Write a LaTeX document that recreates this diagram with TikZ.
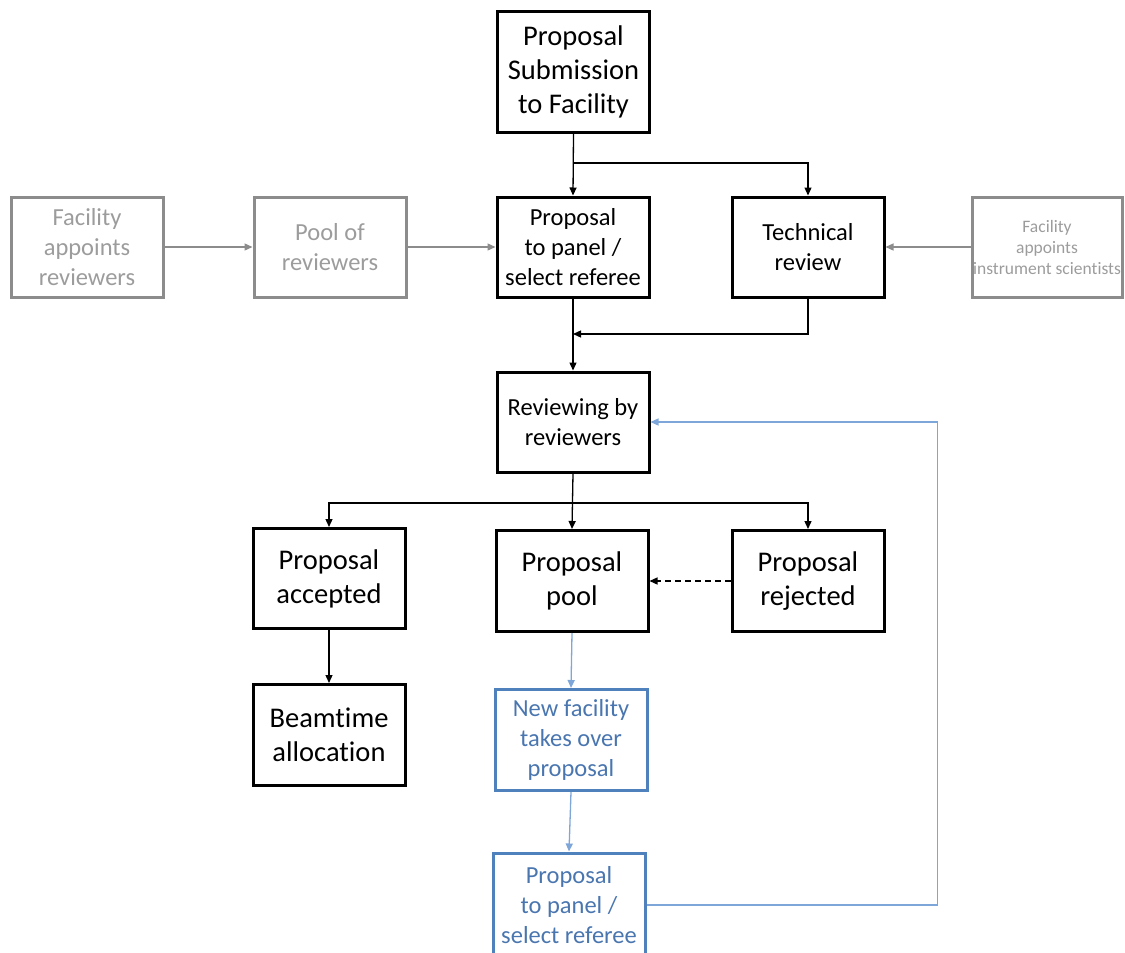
\documentclass[tikz,border=0pt]{standalone}
\usepackage{fontspec}
\setmainfont{Carlito}[Ligatures=NoCommon]
\usetikzlibrary{arrows.meta}
\definecolor{gbox}{HTML}{8C8C8C}
\definecolor{gtext}{HTML}{9C9C9C}
\definecolor{gline}{HTML}{8C8C8C}
\definecolor{bbox}{HTML}{4F81BD}
\definecolor{btext}{HTML}{4A76B0}
\definecolor{bline}{HTML}{7EA6D8}
\tikzset{
  blk/.style={draw=black, line width=3pt, minimum width=152pt, minimum height=100pt, align=center, inner sep=0pt},
  gry/.style={blk, draw=gbox, text=gtext},
  blu/.style={blk, draw=bbox, text=btext},
  con/.style={line width=1.3pt, -{Triangle[length=8pt,width=7pt]}},
  gcon/.style={con, draw=gline},
  bcon/.style={con, draw=bline},
  fA/.style={font=\fontsize{28.5}{34}\selectfont},
  fB/.style={font=\fontsize{24.5}{30}\selectfont},
  fC/.style={font=\fontsize{17.5}{21}\selectfont},
}
\begin{document}
\begin{tikzpicture}[x=1pt,y=-1pt]
\useasboundingbox (0,0) rectangle (1125,953);
\clip (0,0) rectangle (1125,953);
\node[blk,fA,minimum height=121pt] (sub) at (573.5,72) {Proposal\\Submission\\to Facility};
\node[blk,fB] (panel) at (573,247) {Proposal\\to panel /\\select referee};
\node[blk,fB] (tech) at (808,247) {Technical\\review};
\node[gry,fB] (far) at (87,247) {Facility\\appoints\\reviewers};
\node[gry,fB] (pool) at (330,247) {Pool of\\reviewers};
\node[gry,fC,minimum width=150pt] (inst) at (1047,247) {Facility\\appoints\\instrument scientists};
\node[blk,fB] (rev) at (573,422) {Reviewing by\\reviewers};
\node[blk,fA] (acc) at (329,578.5) {Proposal\\accepted};
\node[blk,fA,minimum height=101pt] (ppool) at (572,581) {Proposal\\pool};
\node[blk,fA,minimum height=101pt] (rej) at (808,581) {Proposal\\rejected};
\node[blk,fA,minimum height=101pt] (beam) at (329,735) {Beamtime\\allocation};
\node[blu,fB,minimum height=101pt] (newf) at (571,740) {New facility\\takes over\\proposal};
\node[blu,fB,minimum height=104pt] (bpanel) at (569,905) {Proposal\\to panel /\\select referee};

\coordinate (j1) at (573,334);
\coordinate (j2) at (573,503);
\coordinate (j0) at (573,163);

\draw[con] (sub.south) -- (panel.north);
\draw[con] (j0) -| (tech.north);
\draw[gcon] (far.east) -- (pool.west);
\draw[gcon] (pool.east) -- (panel.west);
\draw[gcon] (inst.west) -- (tech.east);
\draw[con] (panel.south) -- (rev.north);
\draw[con] (tech.south) |- (j1);
\draw[con] (rev.south) -- (ppool.north);
\draw[con] (j2) -| (acc.north);
\draw[con] (j2) -| (rej.north);
\draw[con, dash pattern=on 6pt off 4pt] (rej.west) -- (ppool.east);
\draw[con] (acc.south) -- (beam.north);
\draw[bcon] (ppool.south) -- (newf.north);
\draw[bcon] (newf.south) -- (bpanel.north);
\draw[bcon] (bpanel.east) -- ++(291,0) |- (rev.east);
\end{tikzpicture}
\end{document}
